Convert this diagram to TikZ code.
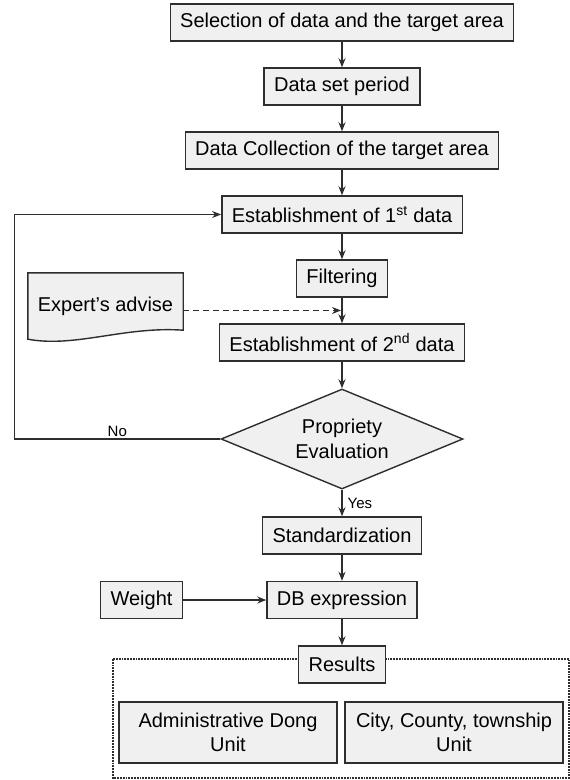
\documentclass[tikz,border=0pt]{standalone}
\usepackage{fontspec}
\setmainfont{Liberation Sans}
\usetikzlibrary{arrows.meta,shapes.geometric,calc,backgrounds}
\definecolor{boxgray}{HTML}{F0F0F0}
\definecolor{linegray}{HTML}{2E2E2E}
\tikzset{
    box/.style =    {rectangle,
                    fill=boxgray,
                    draw=linegray,
                    text=black,
                    line width=1.4pt,
                    inner xsep=10pt,
                    minimum height=37pt,
                    font=\fontsize{20}{24}\selectfont},
    decision/.style = {diamond,
                    aspect=2.4,
                    fill=boxgray,
                    draw=linegray,
                    text=black,
                    line width=1.4pt,
                    inner sep=0pt,
                    minimum width=242pt,
                    minimum height=100pt,
                    align=center,
                    font=\fontsize{20}{25}\selectfont},
    doc/.style =    {rectangle,
                    text=black,
                    minimum width=155pt,
                    minimum height=66pt,
                    font=\fontsize{20}{24}\selectfont},
    unit/.style =   {box,
                    minimum width=218pt,
                    minimum height=61pt,
                    align=center},
    tag/.style =    {text=black,
                    inner sep=2pt,
                    font=\fontsize{15}{18}\selectfont},
    flow/.style =   {draw=linegray,
                    line width=1.4pt,
                    ->},
    >={Stealth[length=9pt,width=7pt]},
    node distance=64pt}
\begin{document}
\begin{tikzpicture}[x=1pt,y=1pt]
    \useasboundingbox (0,0) rectangle (570,-780);
                \node[box]      (select) at (342,-22.5)         {Selection of data and the target area};
                \node[box]      (period) [below of=select]      {Data set period};
                \node[box]      (collect) [below of=period]     {Data Collection of the target area};
                \node[box]      (first) [below of=collect]      {Establishment of 1\textsuperscript{st} data};
                \node[box]      (filter) [below of=first]       {Filtering};
                \node[box]      (second) [below of=filter]      {Establishment of 2\textsuperscript{nd} data};
                \node[decision] (eval) [below of=second, node distance=96.5pt] {Propriety\\Evaluation};
                \node[box]      (std) [below of=eval, node distance=96.5pt]    {Standardization};
                \node[box]      (db) [below of=std, node distance=64.5pt]      {DB expression};
                \node[box]      (results) [below of=db, node distance=64.5pt]  {Results};
                \node[box]      (weight) [left of=db, node distance=200.5pt]   {Weight};
                \node[doc]      (expert) at (105.5,-306)        {Expert's advise};
                \node[unit]     (admin) at (228,-732.5)         {Administrative Dong\\Unit};
                \node[unit]     (city) at (454,-732.5)          {City, County, township\\Unit};
                \coordinate     (merge) at ($(filter.south)!0.5!(second.north)$);
                % document shape and the results frame
                \begin{scope}[on background layer]
                \filldraw[fill=boxgray, draw=linegray, line width=1.4pt]
                    (expert.south west) -- (expert.north west) -- (expert.north east)
                    -- ([yshift=9pt]expert.south east)
                    .. controls (125,-326) and (75,-348) .. (expert.south west) -- cycle;
                \draw[linegray, densely dotted, line width=1.8pt] (113,-659) rectangle (569,-778);
                \end{scope}
                \path [flow]    (select) edge (period)
                                (period) edge (collect)
                                (collect) edge (first)
                                (first) edge (filter)
                                (filter) edge (second)
                                (second) edge (eval)
                                (eval) edge node [tag, right, xshift=3pt] {Yes} (std)
                                (std) edge (db)
                                (weight) edge (db)
                                (db) edge (results);
                \draw [flow]    (eval.west) -- node [tag, above] {No} ++(-206,0) |- (first.west);
                \draw [flow, dash pattern=on 6pt off 4pt, shorten >=1pt] (expert.east |- merge) -- (merge);
\end{tikzpicture}
\end{document}
